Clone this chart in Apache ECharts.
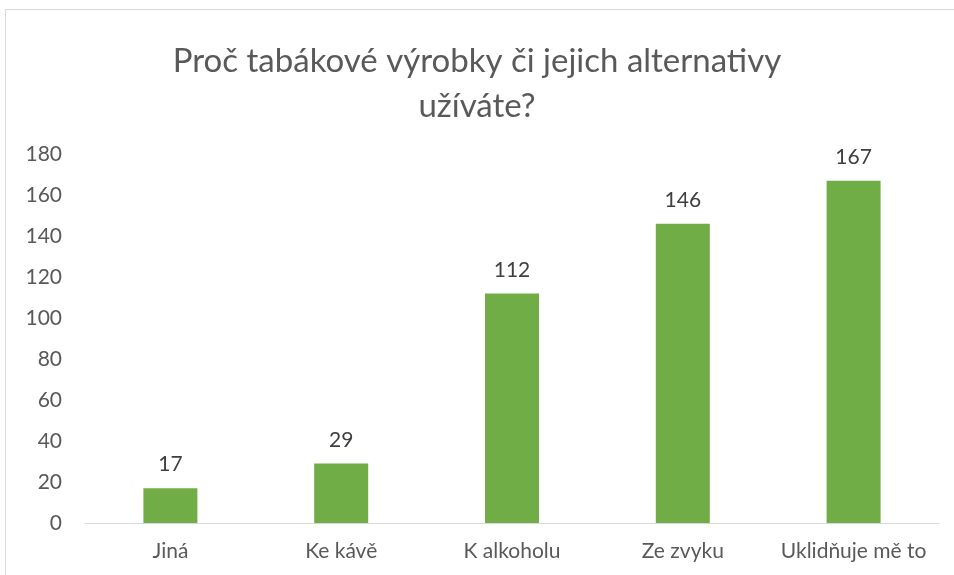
<!DOCTYPE html>
<html lang="cs">
<head>
    <meta charset="UTF-8">
    <title>Proč tabákové výrobky</title>
    <style>
        body, html {
            margin: 0;
            width: 100%;
            height: 100%;
            background: #fff;
        }
        #container {
            width: 954px;
            height: 575px;
        }
    </style>
    <script src="https://cdn.jsdelivr.net/npm/echarts@6/dist/echarts.min.js"></script>
</head>
<body>
<div id="container"></div>
<script type="text/javascript">
    var categories = ['Jiná', 'Ke kávě', 'K alkoholu', 'Ze zvyku', 'Uklidňuje mě to'];
    var values = [17, 29, 112, 146, 167];
    var yMax = 180, yStep = 20;

    var font = 'Lato, "Open Sans", sans-serif';
    var myChart = echarts.init(document.getElementById('container'));

    var option = {
        animation: false,
        backgroundColor: '#fff',
        title: {
            text: 'Proč tabákové výrobky či jejich alternativy\nužíváte?',
            left: 'center',
            top: 34,
            textStyle: {
                fontFamily: font,
                fontSize: 33,
                fontWeight: 'normal',
                color: '#595959',
                lineHeight: 45
            }
        },
        graphic: [{
            type: 'rect',
            shape: {x: 5.5, y: 9.5, width: 960, height: 600},
            style: {fill: 'none', stroke: '#d9d9d9', lineWidth: 1},
            silent: true
        }],
        grid: {left: 85, right: 15, top: 154, bottom: 52},
        xAxis: {
            type: 'category',
            data: categories,
            axisLine: {lineStyle: {color: '#d9d9d9', width: 1}},
            axisTick: {show: false},
            axisLabel: {interval: 0, fontFamily: font, fontSize: 21, color: '#595959', margin: 18}
        },
        yAxis: {
            type: 'value',
            min: 0,
            max: yMax,
            interval: yStep,
            axisLine: {show: false},
            axisTick: {show: false},
            splitLine: {show: false},
            axisLabel: {fontFamily: font, fontSize: 21, color: '#595959', margin: 23}
        },
        series: [{
            type: 'bar',
            data: values,
            barWidth: 54,
            itemStyle: {color: '#70ad47'},
            label: {
                show: true,
                position: 'top',
                distance: 13,
                fontFamily: font,
                fontSize: 21,
                color: '#404040'
            }
        }]
    };
    myChart.setOption(option);
</script>
</body>
</html>
